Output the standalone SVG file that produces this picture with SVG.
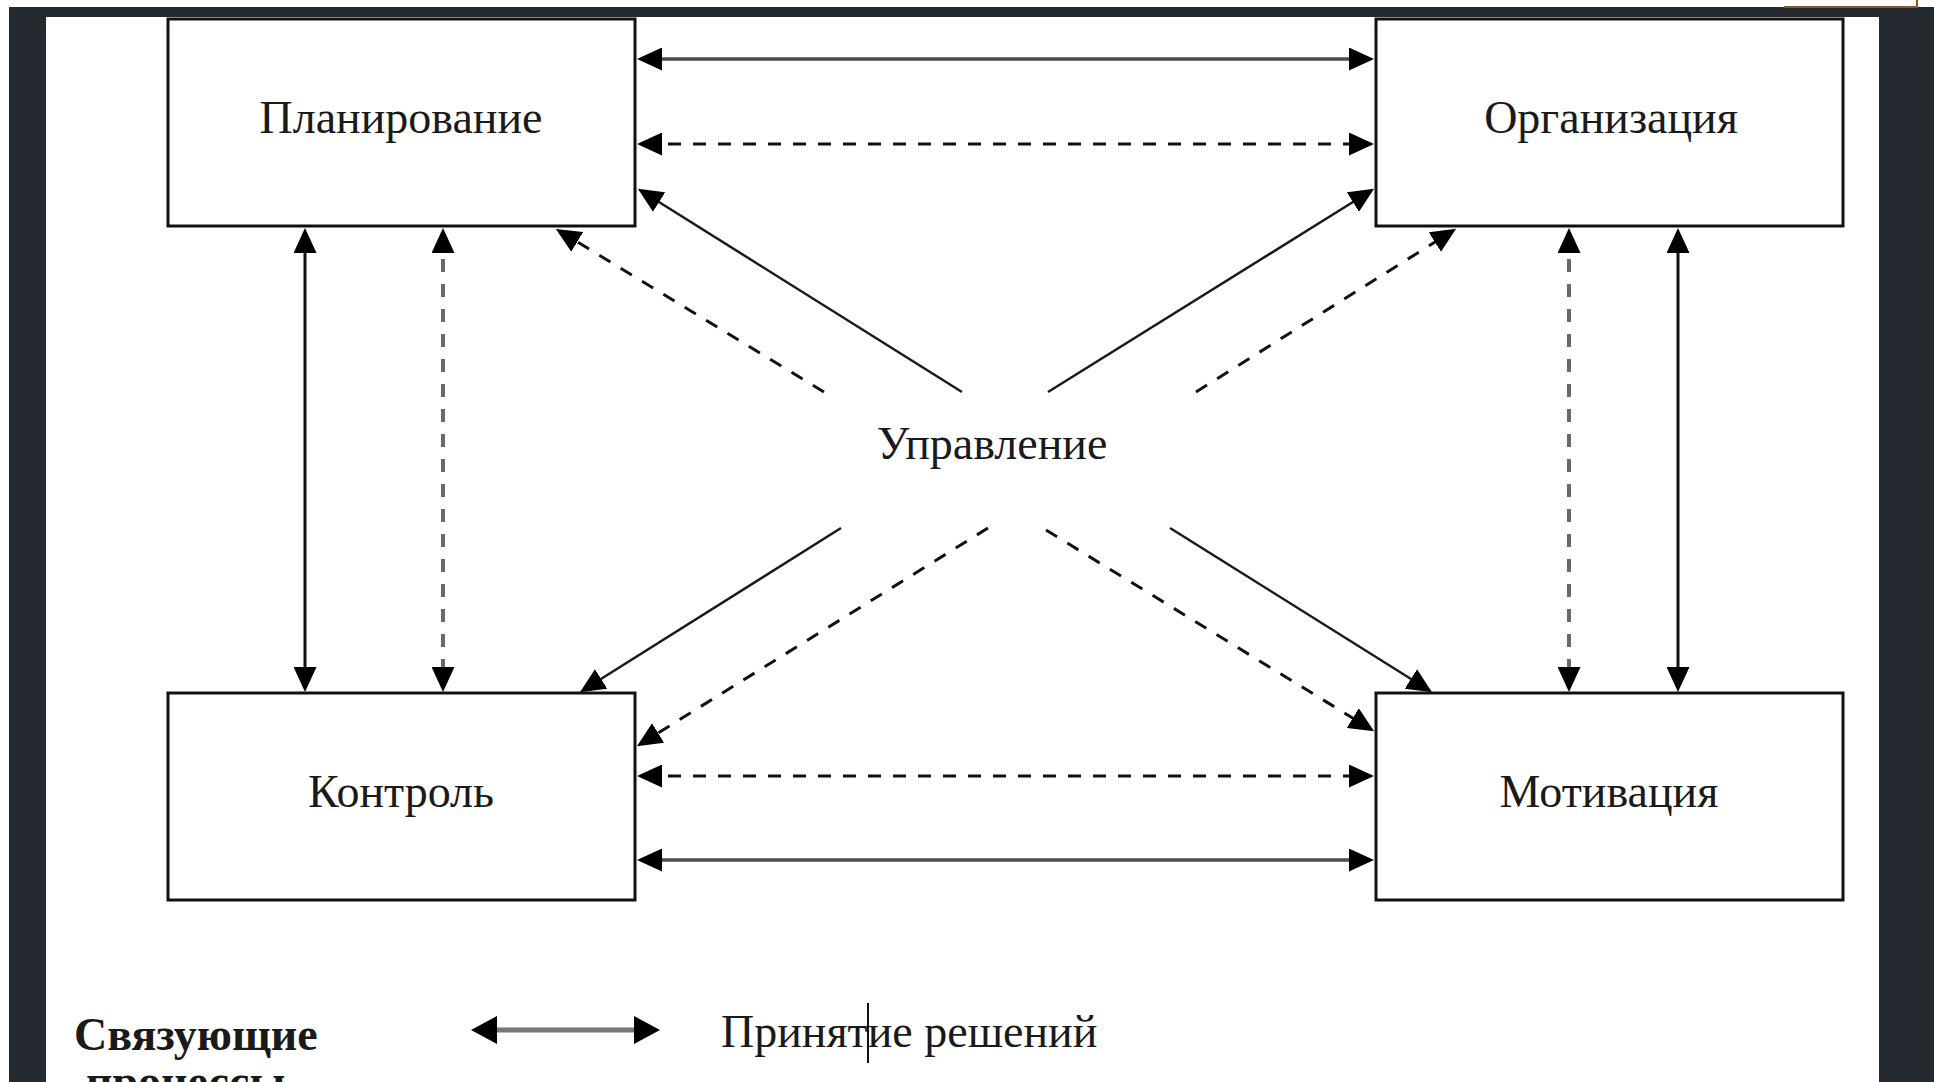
<svg xmlns="http://www.w3.org/2000/svg" width="1934" height="1082" viewBox="0 0 1934 1082">
  <style>
    .box { fill: #ffffff; stroke: #111111; stroke-width: 3; }
    .lbl { font-family: "Liberation Serif", "Times New Roman", serif; font-size: 46px; fill: #1a1a1a; text-anchor: middle; }
    .leg { font-family: "Liberation Serif", "Times New Roman", serif; font-size: 46px; fill: #1a1a1a; }
    .hsolid { stroke: #4d4d4d; stroke-width: 3.5; fill: none; }
    .vsolid { stroke: #111111; stroke-width: 3; fill: none; }
    .dsolid { stroke: #1a1a1a; stroke-width: 2.5; fill: none; }
    .dash { stroke: #111111; stroke-width: 3; stroke-dasharray: 13 12; fill: none; }
    .vdash { stroke: #6a6a6a; stroke-width: 4; stroke-dasharray: 13 12; fill: none; }
  </style>
  <defs>
    <marker id="ah" markerUnits="userSpaceOnUse" markerWidth="25" markerHeight="23" refX="19" refY="11.5" orient="auto-start-reverse">
      <path d="M0,0 L25,11.5 L0,23 z" fill="#000000"/>
    </marker>
    <marker id="ahL" markerUnits="userSpaceOnUse" markerWidth="26" markerHeight="28" refX="20" refY="14" orient="auto-start-reverse">
      <path d="M0,0 L26,14 L0,28 z" fill="#000000"/>
    </marker>
  </defs>

  <!-- screenshot frame -->
  <rect x="0" y="0" width="1934" height="1082" fill="#ffffff"/>
  <rect x="9" y="7" width="1925" height="1075" fill="#252a30"/>
  <rect x="46" y="17" width="1833" height="1065" fill="#ffffff"/>
  <path d="M1784,7 H1917 V0" fill="none" stroke="#8a5a22" stroke-width="2"/>

  <g id="connectors">
    <!-- horizontal -->
    <line class="hsolid" x1="643" y1="59" x2="1368" y2="59" marker-start="url(#ah)" marker-end="url(#ah)"/>
    <line class="dash" x1="643" y1="144" x2="1368" y2="144" marker-start="url(#ah)" marker-end="url(#ah)"/>
    <line class="dash" x1="643" y1="776" x2="1368" y2="776" marker-start="url(#ah)" marker-end="url(#ah)"/>
    <line class="hsolid" x1="643" y1="860" x2="1368" y2="860" marker-start="url(#ah)" marker-end="url(#ah)"/>
    <!-- vertical -->
    <line class="vsolid" x1="305" y1="234" x2="305" y2="686" marker-start="url(#ah)" marker-end="url(#ah)"/>
    <line class="vdash" x1="443" y1="234" x2="443" y2="686" marker-start="url(#ah)" marker-end="url(#ah)"/>
    <line class="vdash" x1="1569" y1="234" x2="1569" y2="686" marker-start="url(#ah)" marker-end="url(#ah)"/>
    <line class="vsolid" x1="1678" y1="234" x2="1678" y2="686" marker-start="url(#ah)" marker-end="url(#ah)"/>
    <!-- diagonals -->
    <line class="dsolid" x1="962" y1="392" x2="643" y2="192" marker-end="url(#ah)"/>
    <line class="dash" x1="824" y1="392" x2="561" y2="232" marker-end="url(#ah)"/>
    <line class="dsolid" x1="1048" y1="392" x2="1369" y2="192" marker-end="url(#ah)"/>
    <line class="dash" x1="1196" y1="392" x2="1451" y2="232" marker-end="url(#ah)"/>
    <line class="dsolid" x1="841" y1="528" x2="585" y2="689" marker-end="url(#ah)"/>
    <line class="dash" x1="988" y1="528" x2="642" y2="743" marker-end="url(#ah)"/>
    <line class="dash" x1="1046" y1="530" x2="1369" y2="728" marker-end="url(#ah)"/>
    <line class="dsolid" x1="1170" y1="528" x2="1427" y2="689" marker-end="url(#ah)"/>
  </g>

  <g id="planirovanie">
    <rect class="box" x="168" y="19" width="467" height="207"/>
    <text class="lbl" x="401" y="133">Планирование</text>
  </g>
  <g id="organizaciya">
    <rect class="box" x="1376" y="19" width="467" height="207"/>
    <text class="lbl" x="1611" y="133">Организация</text>
  </g>
  <g id="kontrol">
    <rect class="box" x="168" y="693" width="467" height="207"/>
    <text class="lbl" x="401" y="807">Контроль</text>
  </g>
  <g id="motivaciya">
    <rect class="box" x="1376" y="693" width="467" height="207"/>
    <text class="lbl" x="1609" y="807">Мотивация</text>
  </g>
  <g id="upravlenie">
    <text class="lbl" x="992" y="459">Управление</text>
  </g>

  <g id="legend">
    <text class="leg" x="74" y="1050" font-weight="bold">Связующие</text>
    <text class="leg" x="86" y="1097" font-weight="bold">процессы</text>
    <line x1="477" y1="1030" x2="654" y2="1030" stroke="#777777" stroke-width="5" marker-start="url(#ahL)" marker-end="url(#ahL)"/>
    <text class="leg" x="721" y="1047">Принятие решений</text>
    <line x1="868" y1="1003" x2="868" y2="1063" stroke="#111111" stroke-width="2"/>
  </g>
</svg>
